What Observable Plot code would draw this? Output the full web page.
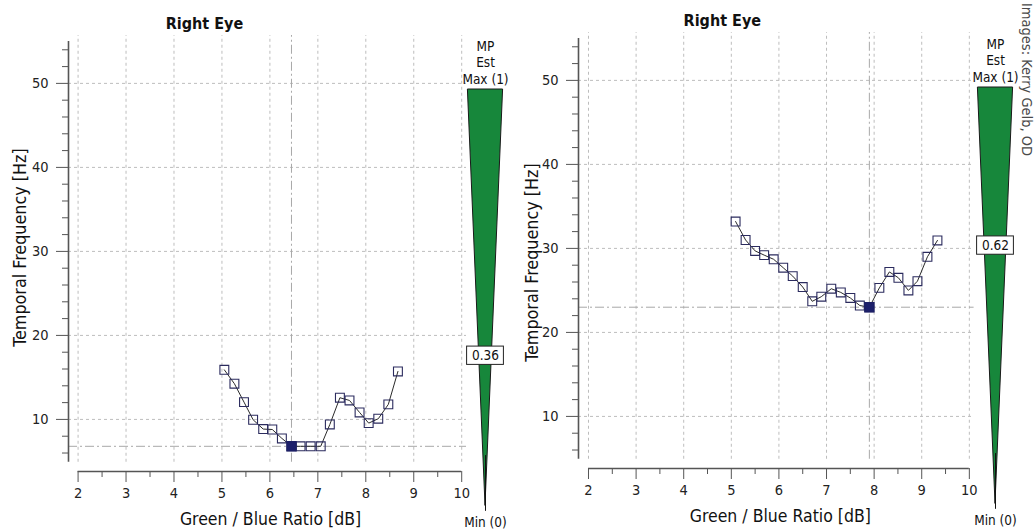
<!DOCTYPE html>
<html><head><meta charset="utf-8">
<script src="https://cdn.jsdelivr.net/npm/d3@7"></script>
<script src="https://cdn.jsdelivr.net/npm/@observablehq/plot@0.6"></script>
<style>
body{margin:0;background:#fff;}
#wrap{position:relative;width:1034px;height:530px;overflow:hidden;background:#fff;font-family:"DejaVu Sans Condensed","DejaVu Sans",sans-serif;}
#wrap svg{position:absolute;overflow:visible;}
.credit{position:absolute;left:1019px;top:3px;writing-mode:vertical-rl;font-size:14.5px;color:#4a4a4a;white-space:nowrap;}
</style></head><body><div id="wrap"></div>
<script>
// ---- data ----
const xTicks = [2, 3, 4, 5, 6, 7, 8, 9, 10];
const xMinorTicks = [2.5, 3.5, 4.5, 5.5, 6.5, 7.5, 8.5, 9.5];
const yTicks = [10, 20, 30, 40, 50];
const yMinorTicks = [6, 8, 12, 14, 16, 18, 22, 24, 26, 28, 32, 34, 36, 38, 42, 44, 46, 48, 52, 54];
const titles = ["Right Eye", "Right Eye"];
const xLabel = "Green / Blue Ratio [dB]";
const yLabel = "Temporal Frequency [Hz]";

const leftX = [5.05, 5.26, 5.46, 5.65, 5.86, 6.05, 6.25, 6.45, 6.64, 6.85, 7.06, 7.25, 7.46, 7.66, 7.87, 8.06, 8.26, 8.47, 8.67];
const leftY = [15.9, 14.25, 12.06, 9.96, 8.85, 8.8, 7.74, 6.8, 6.8, 6.8, 6.8, 9.4, 12.58, 12.26, 10.83, 9.56, 10.08, 11.79, 15.71];
const leftMinIndex = 7;

const rightX = [5.09, 5.30, 5.50, 5.69, 5.89, 6.09, 6.29, 6.50, 6.70, 6.89, 7.10, 7.30, 7.50, 7.70, 7.90, 8.11, 8.32, 8.51, 8.72, 8.91, 9.12, 9.33];
const rightY = [33.2, 31.0, 29.7, 29.2, 28.7, 27.7, 26.7, 25.4, 23.7, 24.25, 25.2, 24.76, 24.1, 23.2, 23.0, 25.3, 27.2, 26.5, 25.0, 26.1, 29.0, 30.95];
const rightMinIndex = 14;

const mpValues = [0.36, 0.62];
const wedgeLevels = [0, 1];        // Min (0) .. Max (1)
const wedgeHeader = "MP\nEst\nMax (1)";
const wedgeFooter = "Min (0)";
const credit = "Images: Kerry Gelb, OD";

// ---- drawing ----
const wrap = document.getElementById("wrap");
const FONT = "\"DejaVu Sans Condensed\", \"DejaVu Sans\", sans-serif";
const GRID = "#bdbdbd", AXIS = "#555", INK = "#222";

function place(svg, left, top) {
  svg.style.left = left + "px";
  svg.style.top = top + "px";
  wrap.appendChild(svg);
}

function panel(cfg) {
  const data = cfg.xs.map((x, i) => ({x, y: cfg.ys[i]}));
  const minPt = data[cfg.minIndex];
  const xd = cfg.xDomain, yd = cfg.yDomain, ya = cfg.yAxisExtent;
  const chart = Plot.plot({
    width: cfg.width, height: 530,
    marginLeft: 68, marginRight: cfg.marginRight,
    marginTop: cfg.marginTop, marginBottom: 530 - cfg.bottom,
    style: {fontFamily: FONT, fontSize: "14.5px", color: INK, background: "transparent", overflow: "visible"},
    x: {domain: xd},
    y: {domain: yd},
    marks: [
      Plot.ruleX(xTicks, {y1: ya[0], y2: yd[1], stroke: GRID, strokeDasharray: "3,3"}),
      Plot.ruleY(yTicks, {x1: xd[0], x2: xd[1], stroke: GRID, strokeDasharray: "3,3"}),
      Plot.ruleY([minPt.y], {x1: xd[0], x2: xd[1], stroke: "#a8a8a8", strokeDasharray: "9,3,2,3"}),
      Plot.ruleX([minPt.x], {y1: ya[0], y2: yd[1], stroke: "#a8a8a8", strokeDasharray: "9,3,2,3"}),
      Plot.ruleX([xd[0]], {y1: ya[0], y2: ya[1], stroke: AXIS, strokeWidth: 1.6}),
      Plot.ruleY([yd[0]], {x1: xTicks[0], x2: xTicks[xTicks.length - 1], stroke: AXIS, strokeWidth: 1.6}),
      Plot.axisY(yTicks, {anchor: "left", tickSize: 12, tickPadding: 8, stroke: AXIS, label: null}),
      Plot.axisY(yMinorTicks, {anchor: "left", tickSize: 6, tickFormat: () => "", stroke: AXIS, label: null}),
      Plot.axisX(xTicks, {anchor: "bottom", tickSize: 11, tickPadding: 5, stroke: AXIS, label: null}),
      Plot.axisX(xMinorTicks, {anchor: "bottom", tickSize: 6, tickFormat: () => "", stroke: AXIS, label: null}),
      Plot.line(data, {x: "x", y: "y", stroke: "#2a2a2a", strokeWidth: 1}),
      Plot.dot(data, {x: "x", y: "y", symbol: "square", r: 5, stroke: "#2b2b5e", strokeWidth: 1.1, fill: "none"}),
      Plot.dot([minPt], {x: "x", y: "y", symbol: "square", r: 5, stroke: "#1c1f66", fill: "#1c1f6b"}),
      Plot.text([cfg.title], {frameAnchor: "top", textAnchor: "middle", dx: cfg.titleDx, dy: cfg.titleDy, lineAnchor: "middle", fontWeight: "bold", fontSize: 16, fill: "#111"}),
      Plot.text([yLabel], {frameAnchor: "left", textAnchor: "middle", rotate: -90, dx: cfg.yLabelDx, dy: cfg.yLabelDy, lineAnchor: "middle", fontSize: 17.8, fill: "#111"}),
      Plot.text([xLabel], {frameAnchor: "bottom", textAnchor: "middle", dx: cfg.xLabelDx, dy: cfg.xLabelDy, lineAnchor: "middle", fontSize: 17.5, fill: "#111"})
    ]
  });
  place(chart, cfg.left, 0);
}

function wedge(cfg) {
  const halfW = 0.44;
  const chart = Plot.plot({
    width: 80, height: 530,
    marginLeft: 0, marginRight: 0, marginTop: cfg.top, marginBottom: 530 - cfg.bottom,
    style: {fontFamily: FONT, fontSize: "13.5px", color: INK, background: "transparent", overflow: "visible"},
    x: {domain: [-1, 1], axis: null},
    y: {domain: [0, 1], axis: null},
    marks: [
      Plot.areaX(wedgeLevels, {y: d => d, x1: d => -halfW * d, x2: d => halfW * d, fill: "#17873b", stroke: "#1a1a1a", strokeWidth: 1}),
      Plot.ruleX([0], {y1: -0.014, y2: 0.12, stroke: "#111", strokeWidth: 1}),
      Plot.rect([cfg.value], {x1: -0.46, x2: 0.46, y1: d => d - 0.022, y2: d => d + 0.022, fill: "white", stroke: "#222", strokeWidth: 1}),
      Plot.text([cfg.value], {x: 0, y: d => d, text: d => d.toFixed(2), fontSize: 13.5, fill: "#111"}),
      Plot.text([wedgeHeader], {x: 0, y: 1, lineAnchor: "bottom", dy: -6, lineHeight: 1.2, fontSize: 13.5, fill: "#111"}),
      Plot.text([wedgeFooter], {x: 0, y: 0, dy: 17, fontSize: 13.5, fill: "#111"})
    ]
  });
  place(chart, cfg.cx - 40, 0);
}

panel({xs: leftX, ys: leftY, minIndex: leftMinIndex, title: titles[0], left: 0, width: 510, marginRight: 44,
  marginTop: 35, bottom: 471, xDomain: [1.8, 10.1], yDomain: [3.8, 55.7], yAxisExtent: [4.9, 55],
  titleDx: -63, titleDy: -12, yLabelDx: -48, yLabelDy: -6, xLabelDx: 3, xLabelDy: 48});
panel({xs: rightX, ys: rightY, minIndex: rightMinIndex, title: titles[1], left: 510, width: 524, marginRight: 60.4,
  marginTop: 32, bottom: 468, xDomain: [1.79, 10.1], yDomain: [3.8, 55.7], yAxisExtent: [4.9, 55],
  titleDx: -54, titleDy: -12, yLabelDx: -46, yLabelDy: 12, xLabelDx: 4, xLabelDy: 48});

wedge({cx: 485, top: 89, bottom: 505, value: mpValues[0]});
wedge({cx: 995, top: 87, bottom: 503, value: mpValues[1]});

const c = document.createElement("div");
c.className = "credit";
c.textContent = credit;
wrap.appendChild(c);
</script>
</body></html>
